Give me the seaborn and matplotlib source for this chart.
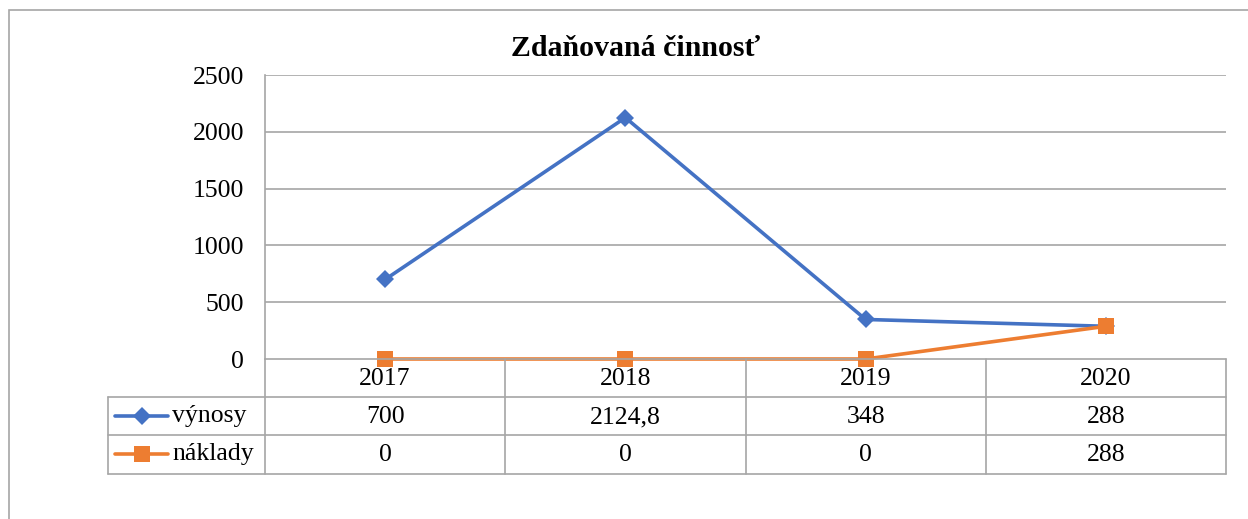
import matplotlib
matplotlib.use("Agg")
import matplotlib.pyplot as plt
import seaborn as sns
import pandas as pd
from matplotlib.lines import Line2D
from matplotlib.patches import Rectangle
from matplotlib.transforms import blended_transform_factory

years = ["2017", "2018", "2019", "2020"]
vynosy = [700, 2124.8, 348, 288]
naklady = [0, 0, 0, 288]
series_names = ["výnosy", "náklady"]
title = "Zdaňovaná činnosť"
yticks = [0, 500, 1000, 1500, 2000, 2500]

BLUE = "#4472C4"
ORANGE = "#ED7D31"
GRID = "#A6A6A6"

sns.set_theme(style="white")
plt.rcParams["font.family"] = ["Liberation Serif", "DejaVu Serif"]
plt.rcParams["text.color"] = "black"
plt.rcParams["ytick.color"] = "black"
plt.rcParams["ytick.labelcolor"] = "black"

W, H = 1248, 519
fig = plt.figure(figsize=(W / 100, H / 100), dpi=100)

def fx(px):
    return px / W

def fy(py):
    return 1 - py / H

# outer chart border
fig.patches.append(Rectangle((fx(9), fy(600)), fx(1300), fy(10) - fy(600),
                             transform=fig.transFigure, fill=False,
                             edgecolor=GRID, linewidth=1.2))

L, R, T, B = 265, 1226, 75, 359
ax = fig.add_axes([fx(L), fy(B), fx(R) - fx(L), fy(T) - fy(B)])

df = pd.DataFrame({"x": range(len(years)), "v": vynosy, "n": naklady})
sns.lineplot(data=df, x="x", y="v", ax=ax, color=BLUE, linewidth=2.6,
             marker="D", markersize=9, markeredgewidth=0, clip_on=False)
sns.lineplot(data=df, x="x", y="n", ax=ax, color=ORANGE, linewidth=2.6,
             marker="s", markersize=12, markeredgewidth=0, clip_on=False)

ax.set_xlim(-0.5, len(years) - 0.5)
ax.set_ylim(0, 2500)
ax.set_yticks(yticks)
ax.set_yticklabels([str(t) for t in yticks], fontsize=18.5, color="black")
ax.set_xticks([])
ax.set_xlabel("")
ax.set_ylabel("")
ax.tick_params(axis="y", length=0, pad=15)
for t in yticks[1:]:
    ax.axhline(t, color=GRID, linewidth=1.2, zorder=0)
for s in ["top", "right", "bottom"]:
    ax.spines[s].set_visible(False)
ax.spines["left"].set_color(GRID)
ax.spines["left"].set_linewidth(1.2)

fig.text(fx(636), fy(48), title, ha="center", va="center",
         fontsize=21.5, fontweight="bold", color="black")

# data table
rows_y = [359, 397, 435, 474]
tr = blended_transform_factory(ax.transData, fig.transFigure)
lw = 1.2
# horizontal lines
fig.add_artist(Line2D([fx(L), fx(R)], [fy(rows_y[0])] * 2, color=GRID, lw=lw,
                      transform=fig.transFigure))
for ry in rows_y[1:]:
    fig.add_artist(Line2D([fx(108), fx(R)], [fy(ry)] * 2, color=GRID, lw=lw,
                          transform=fig.transFigure))
# vertical lines
fig.add_artist(Line2D([fx(108), fx(108)], [fy(rows_y[1]), fy(rows_y[3])],
                      color=GRID, lw=lw, transform=fig.transFigure))
for i in range(len(years) + 1):
    xb = i - 0.5
    fig.add_artist(Line2D([xb, xb], [fy(rows_y[0]), fy(rows_y[3])],
                          color=GRID, lw=lw, transform=tr))

fs = 18.5
for i, yr in enumerate(years):
    fig.text(i, fy(379), yr, transform=tr, ha="center", va="center",
             fontsize=fs, color="black")

def fmt(v):
    s = f"{v:g}"
    return s.replace(".", ",")

for i, (a, b) in enumerate(zip(vynosy, naklady)):
    fig.text(i, fy(417), fmt(a), transform=tr, ha="center", va="center",
             fontsize=fs, color="black")
    fig.text(i, fy(455), fmt(b), transform=tr, ha="center", va="center",
             fontsize=fs, color="black")

# legend keys
for name, col, mk, ms, cy in [(series_names[0], BLUE, "D", 9, 416),
                              (series_names[1], ORANGE, "s", 12, 454)]:
    fig.add_artist(Line2D([fx(115), fx(168)], [fy(cy)] * 2, color=col, lw=2.6,
                          transform=fig.transFigure))
    fig.add_artist(Line2D([fx(141.5)], [fy(cy)], color=col, marker=mk,
                          markersize=ms, markeredgewidth=0,
                          transform=fig.transFigure))
    fig.text(fx(172), fy(cy), name, ha="left", va="center", fontsize=fs,
             color="black")

fig.savefig("out.png", dpi=100)
